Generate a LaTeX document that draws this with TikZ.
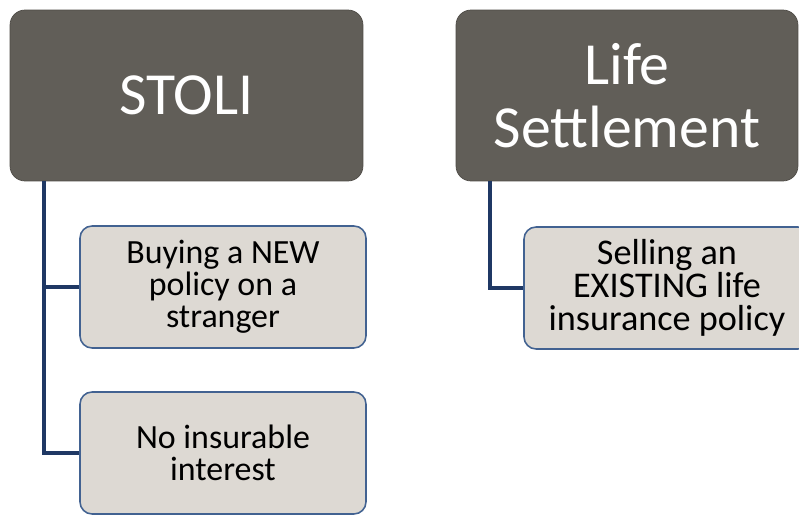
\documentclass[tikz,border=0pt]{standalone}
\usepackage{fontspec}
\setmainfont{Carlito}
\usepackage{xcolor}
\usetikzlibrary{positioning,calc}

\definecolor{headfill}{RGB}{97,94,88}
\definecolor{itemfill}{RGB}{221,217,211}
\definecolor{itemline}{RGB}{66,98,145}
\definecolor{linkcol}{RGB}{31,56,100}

\begin{document}
\begin{tikzpicture}[
    x=0.02cm, y=-0.02cm,
    head/.style={fill=headfill, draw=headfill!80!black, rounded corners=0.3cm,
                 text=white, align=center, inner sep=0pt,
                 font=\fontsize{34}{36}\selectfont,
                 minimum height=3.42cm},
    item/.style={fill=itemfill, draw=itemline, line width=0.9pt,
                 rounded corners=0.24cm, align=center, inner sep=0pt,
                 font=\fontsize{19.3}{18.2}\selectfont,
                 minimum width=5.72cm, minimum height=2.44cm},
    bigitem/.style={item, font=\fontsize{20.6}{18.9}\selectfont},
    link/.style={draw=linkcol, line width=2pt},
]
\clip (0,0) rectangle (799,516);
\fill[white] (0,0) rectangle (799,516);

%% ── Heading boxes ───────────────────────────────────────────────────────────
\node[head, minimum width=7.06cm] (stoli) at (186.5, 95.5) {STOLI};
\node[head, minimum width=6.84cm] (life)  at (627, 95.5) {Life\\Settlement};

%% ── Item boxes ──────────────────────────────────────────────────────────────
\node[item]    (buy)   at (223, 287) {Buying a NEW\\policy on a\\stranger};
\node[item]    (noins) at (223, 453) {No insurable\\interest};
\node[bigitem] (sell)  at (667, 288) {Selling an\\EXISTING life\\insurance policy};

%% ── Connectors ──────────────────────────────────────────────────────────────
\coordinate (stolitop) at (44, 181);
\coordinate (lifetop)  at (490, 181);
\draw[link] (stolitop) |- (buy.west);
\draw[link] (stolitop) |- (noins.west);
\draw[link] (lifetop)  |- (sell.west);

\end{tikzpicture}
\end{document}
